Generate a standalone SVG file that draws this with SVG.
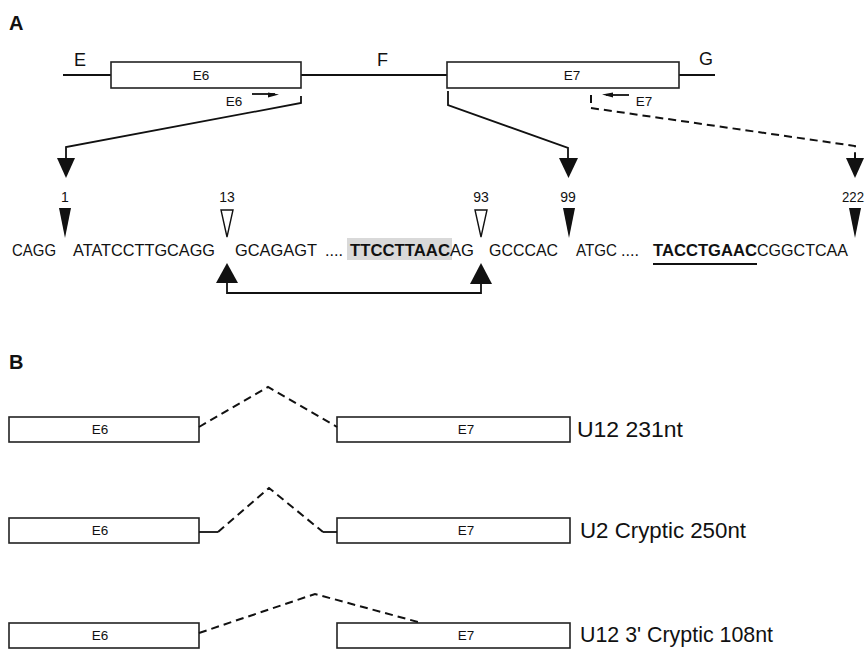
<svg xmlns="http://www.w3.org/2000/svg" width="866" height="649" viewBox="0 0 866 649">
<style>
text{font-family:"Liberation Sans",Arial,sans-serif;fill:#111}
.box{fill:#fff;stroke:#222;stroke-width:1.6}
.ln{fill:none;stroke:#111;stroke-width:1.8}
.dash{fill:none;stroke:#111;stroke-width:2;stroke-dasharray:8 5}
.hd{fill:#111;stroke:none}
.open{fill:#fff;stroke:#111;stroke-width:1.4}
.lbl{font-size:13.5px;text-anchor:middle}
.num{font-size:14px;text-anchor:middle}
.seq{font-size:17px}
.row{font-size:21.5px}
.pan{font-size:20px;font-weight:bold}
.big{font-size:18px}
</style>
<rect width="866" height="649" fill="#fff"/>
<text class="pan" x="9" y="30">A</text>
<text class="pan" x="9" y="369">B</text>
<g id="genomic">
<line class="ln" x1="63" y1="75" x2="112" y2="75"/>
<line class="ln" x1="300" y1="75" x2="448" y2="75"/>
<line class="ln" x1="679" y1="75" x2="715" y2="75"/>
<text class="big" x="74" y="66">E</text>
<text class="big" x="377" y="66">F</text>
<text class="big" x="699" y="65">G</text>
</g>
<g id="exon6">
<rect class="box" x="111" y="62" width="190" height="26"/>
<text class="lbl" x="201" y="80">E6</text>
</g>
<g id="exon7">
<rect class="box" x="447" y="62" width="232" height="26"/>
<text class="lbl" x="572" y="80">E7</text>
</g>
<g id="primerE6">
<text class="lbl" x="234" y="106">E6</text>
<line class="ln" x1="252" y1="94" x2="275" y2="94"/>
<polygon class="hd" points="279,94.5 268,92.5 268,97.5"/>
</g>
<g id="primerE7">
<text class="lbl" x="644" y="106">E7</text>
<line class="ln" x1="606" y1="95" x2="629" y2="95"/>
<polygon class="hd" points="602,94.5 613,92.5 613,97.5"/>
</g>
<g id="connectors">
<polyline class="ln" points="301,96 301,103 66,147 66,160"/>
<polygon class="hd" points="57,158 75,158 66,178"/>
<polyline class="ln" points="448,91 448,105 568,148 568,160"/>
<polygon class="hd" points="559,158 578,158 568.5,178"/>
<polyline class="dash" points="591,95 591,108 855,146 855,158"/>
<polygon class="hd" points="846,158 864,158 855,178"/>
<path class="ln" d="M227 282 V293 H481 V282"/>
<polygon class="hd" points="216,283 238,283 227,263"/>
<polygon class="hd" points="470,284 492,284 481,263"/>
</g>
<g id="sites">
<text class="num" x="65" y="202">1</text>
<polygon class="hd" points="59,208 71,208 65,238"/>
<text class="num" x="227" y="202">13</text>
<polygon class="open" points="221,210 233,210 227,237"/>
<text class="num" x="481" y="202">93</text>
<polygon class="open" points="475,210 487,210 481,237"/>
<text class="num" x="568" y="202">99</text>
<polygon class="hd" points="563,208 575,208 569,238"/>
<text class="num" x="842" y="202" style="text-anchor:start" textLength="22" lengthAdjust="spacingAndGlyphs">222</text>
<polygon class="hd" points="849,208 861,208 855,238"/>
</g>
<g id="sequence">
<rect x="347" y="238" width="105" height="22" fill="#d9d9d9"/>
<text class="seq" x="12" y="256" textLength="44" lengthAdjust="spacingAndGlyphs">CAGG</text>
<text class="seq" x="73" y="256" textLength="142" lengthAdjust="spacingAndGlyphs">ATATCCTTGCAGG</text>
<text class="seq" x="235" y="256" textLength="82" lengthAdjust="spacingAndGlyphs">GCAGAGT</text>
<text class="seq" x="325" y="256" textLength="18" lengthAdjust="spacingAndGlyphs">....</text>
<text class="seq" x="350" y="256" textLength="100" lengthAdjust="spacingAndGlyphs" font-weight="bold">TTCCTTAAC</text>
<text class="seq" x="450" y="256" textLength="24" lengthAdjust="spacingAndGlyphs">AG</text>
<text class="seq" x="489" y="256" textLength="69" lengthAdjust="spacingAndGlyphs">GCCCAC</text>
<text class="seq" x="576" y="256" textLength="41" lengthAdjust="spacingAndGlyphs">ATGC</text>
<text class="seq" x="621" y="256" textLength="18" lengthAdjust="spacingAndGlyphs">....</text>
<text class="seq" x="653" y="256" textLength="104" lengthAdjust="spacingAndGlyphs" font-weight="bold">TACCTGAAC</text>
<text class="seq" x="757" y="256" textLength="91" lengthAdjust="spacingAndGlyphs">CGGCTCAA</text>
<line class="ln" x1="653" y1="264" x2="757" y2="264" stroke-width="1.5"/>
</g>
<g id="isoform1">
<rect class="box" x="9" y="417" width="190" height="25"/>
<text class="lbl" x="100" y="434">E6</text>
<rect class="box" x="337" y="417" width="233" height="25"/>
<text class="lbl" x="466" y="434">E7</text>
<polyline class="dash" points="199,427 268,387 337,427"/>
<text class="row" x="577" y="437" textLength="106" lengthAdjust="spacingAndGlyphs">U12 231nt</text>
</g>
<g id="isoform2">
<rect class="box" x="9" y="518" width="190" height="25"/>
<text class="lbl" x="100" y="535">E6</text>
<rect class="box" x="337" y="518" width="233" height="25"/>
<text class="lbl" x="466" y="535">E7</text>
<line class="ln" x1="199" y1="532" x2="218" y2="532"/>
<polyline class="dash" points="218,532 269,488 323,532"/>
<line class="ln" x1="323" y1="532" x2="337" y2="532"/>
<text class="row" x="580" y="538" textLength="166" lengthAdjust="spacingAndGlyphs">U2 Cryptic 250nt</text>
</g>
<g id="isoform3">
<rect class="box" x="9" y="623" width="190" height="25"/>
<text class="lbl" x="100" y="640">E6</text>
<rect class="box" x="337" y="623" width="233" height="25"/>
<text class="lbl" x="466" y="640">E7</text>
<polyline class="dash" points="199,633 315,594 418,622"/>
<text class="row" x="580" y="642" textLength="193" lengthAdjust="spacingAndGlyphs">U12 3' Cryptic 108nt</text>
</g>
</svg>
